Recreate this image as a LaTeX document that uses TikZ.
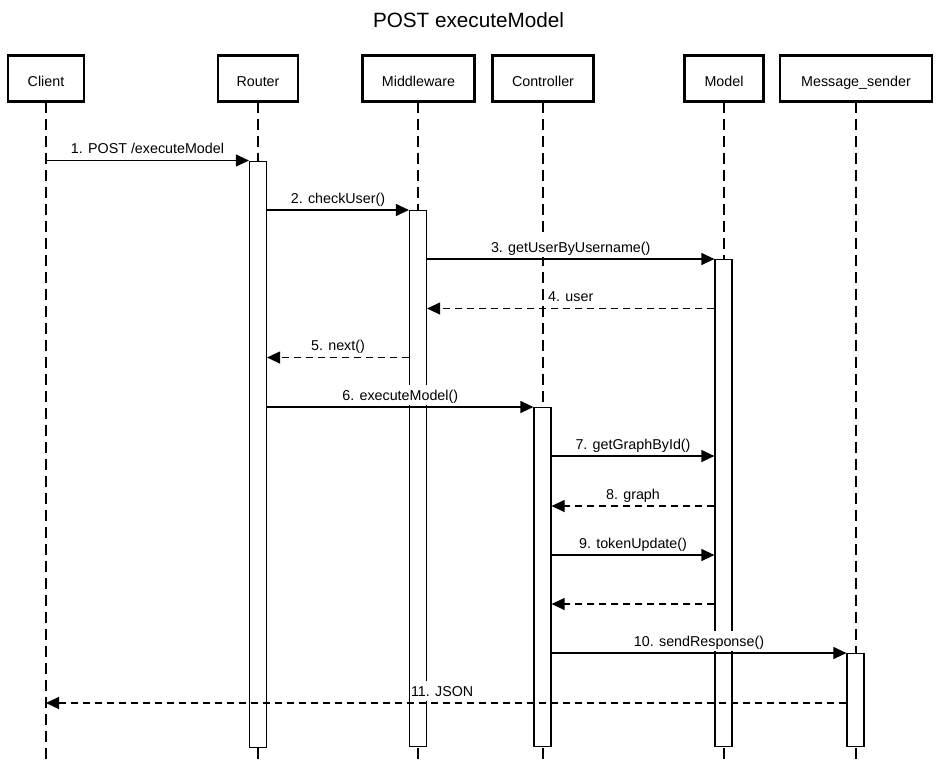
\documentclass[tikz,border=0pt]{standalone}
\usepackage{fontspec}
\setmainfont{Liberation Sans}
\usetikzlibrary{arrows.meta}
\begin{document}
\begin{tikzpicture}[x=1pt,y=-1pt,
  part/.style={draw, line width=2.3pt, minimum height=46pt, inner sep=0pt,
    text height=15pt, text depth=0pt, font=\fontsize{14.3}{16}\selectfont},
  life/.style={line width=1.2pt, dash pattern=on 11pt off 6pt},
  bar/.style={draw, fill=white, line width=1.2pt, minimum width=17pt, inner sep=0pt, anchor=north},
  call/.style={line width=1.2pt, -{Triangle[length=13pt,width=12pt]}},
  ret/.style={call, dash pattern=on 7pt off 5pt},
  lbltext/.style={fill=white, inner xsep=1pt, inner ysep=1pt, text height=14pt, text depth=4pt,
    font=\fontsize{14.3}{16}\selectfont},
  lbl/.style={lbltext, midway, anchor=base, yshift=7pt},
  title/.style={anchor=base, inner sep=0pt, font=\fontsize{20.7}{24}\selectfont}]
\useasboundingbox (0,0) rectangle (939,764);
\fill[white] (0,0) rectangle (939,764);
% title
\node[title] (ttl) at (468.5,27) {POST executeModel};
% participants
\node[part, minimum width=76pt]  (pC)  at (46,78.5)  {Client};
\node[part, minimum width=80pt]  (pR)  at (258,78.5) {Router};
\node[part, minimum width=112pt] (pMw) at (418.5,78.5) {Middleware};
\node[part, minimum width=101pt] (pCt) at (543,78.5) {Controller};
\node[part, minimum width=79pt]  (pMo) at (724,78.5) {Model};
\node[part, minimum width=152pt] (pMs) at (856,78.5) {Message\_sender};
% lifeline ends
\coordinate (eC)  at (46,764);
\coordinate (eR)  at (258,764);
\coordinate (eMw) at (418,764);
\coordinate (eCt) at (543,764);
\coordinate (eMo) at (724,764);
\coordinate (eMs) at (856,764);
\draw[life] (46,101.5) -- (eC);
\draw[life] (258,101.5) -- (eR);
\draw[life] (418,101.5) -- (eMw);
\draw[life] (543,101.5) -- (eCt);
\draw[life] (724,101.5) -- (eMo);
\draw[life] (856,101.5) -- (eMs);
% activation bars
\node[bar, minimum height=586pt] (bR)  at (258,160.5) {};
\node[bar, minimum height=536pt] (bMw) at (418,210) {};
\node[bar, minimum height=339pt] (bCt) at (542.5,407) {};
\node[bar, minimum height=487pt] (bMo) at (723.5,259) {};
\node[bar, minimum height=93pt]  (bMs) at (855.5,653) {};
% messages
\draw[call] (pC.south |- 0,160.5) -- (bR.west |- 0,160.5) node[lbl] {1. POST /executeModel};
\draw[call] (bR.east |- 0,210) -- (bMw.west |- 0,210) node[lbl] {2. checkUser()};
\draw[call] (bMw.east |- 0,259) -- (bMo.west |- 0,259) node[lbl] {3. getUserByUsername()};
\draw[ret] (bMo.west |- 0,308.5) -- (bMw.east |- 0,308.5) node[lbl] {4. user};
\draw[ret] (bMw.west |- 0,357.5) -- (bR.east |- 0,357.5) node[lbl] {5. next()};
\draw[call] (bR.east |- 0,407) -- (bCt.west |- 0,407) node[lbl] {6. executeModel()};
\draw[call] (bCt.east |- 0,456) -- (bMo.west |- 0,456) node[lbl] {7. getGraphById()};
\draw[ret] (bMo.west |- 0,506) -- (bCt.east |- 0,506) node[lbl] {8. graph};
\draw[call] (bCt.east |- 0,555) -- (bMo.west |- 0,555) node[lbl] {9. tokenUpdate()};
\draw[ret] (bMo.west |- 0,604) -- (bCt.east |- 0,604);
\draw[call] (bCt.east |- 0,653) -- (bMs.west |- 0,653) node[lbl] {10. sendResponse()};
\draw[ret] (bMs.west |- 0,703) -- (pC.south |- 0,703);
\node[lbltext, anchor=base west] (l11) at (409.8,696) {11. JSON};
\end{tikzpicture}
\end{document}
